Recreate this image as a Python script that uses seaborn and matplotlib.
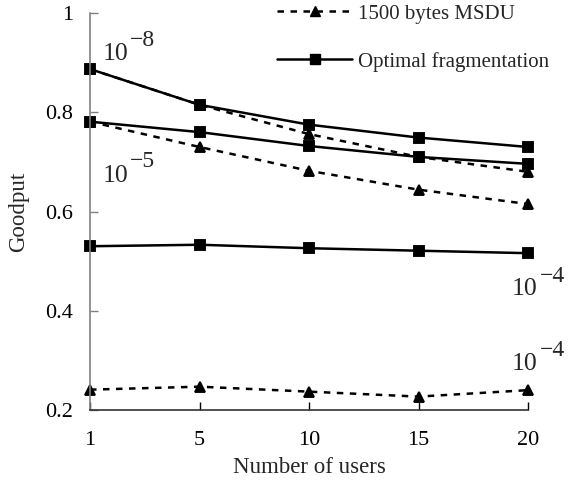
import matplotlib
matplotlib.use("Agg")
import matplotlib.pyplot as plt
import seaborn as sns
import pandas as pd
from matplotlib.lines import Line2D

users = ["1", "5", "10", "15", "20"]
opt_1e8 = [0.887, 0.815, 0.775, 0.749, 0.730]
msdu_1e8 = [0.887, 0.815, 0.756, 0.710, 0.680]
opt_1e5 = [0.781, 0.760, 0.732, 0.710, 0.696]
msdu_1e5 = [0.781, 0.730, 0.682, 0.644, 0.615]
opt_1e4 = [0.530, 0.533, 0.526, 0.521, 0.516]
msdu_1e4 = [0.241, 0.247, 0.237, 0.227, 0.240]

series_labels = ["1500 bytes MSDU", "Optimal fragmentation"]
ber_labels = [("10", "\u22128"), ("10", "\u22125"), ("10", "\u22124"), ("10", "\u22124")]

sns.set_theme(style="ticks")
plt.rcParams["font.family"] = ["Liberation Serif", "DejaVu Serif"]

W, H = 575, 484
fig = plt.figure(figsize=(W / 100, H / 100), dpi=100)
ax = fig.add_axes([90 / W, 74 / H, 438 / W, 397 / H])

dash = (0, (2.6, 2.6))
for vals, kind in [(msdu_1e8, "msdu"), (msdu_1e5, "msdu"), (msdu_1e4, "msdu"),
                   (opt_1e8, "opt"), (opt_1e5, "opt"), (opt_1e4, "opt")]:
    df = pd.DataFrame({"users": users, "goodput": vals})
    if kind == "msdu":
        sns.pointplot(data=df, x="users", y="goodput", order=users, ax=ax,
                      color="black", marker="^", markersize=7,
                      linestyle=dash, linewidth=1.8, errorbar=None)
    else:
        sns.pointplot(data=df, x="users", y="goodput", order=users, ax=ax,
                      color="black", marker="s", markersize=6.8,
                      linestyle="-", linewidth=1.8, errorbar=None)

for ln in ax.lines:
    ln.set_clip_on(False)
for coll in ax.collections:
    coll.set_clip_on(False)

ax.set_xlim(0, len(users) - 1)
ax.set_ylim(0.2, 1.0)
ax.set_yticks([0.2, 0.4, 0.6, 0.8, 1.0])
ax.set_yticklabels(["0.2", "0.4", "0.6", "0.8", "1"])
ax.set_xlabel("Number of users", fontsize=16.5, labelpad=5)
ax.set_ylabel("Goodput", fontsize=16.5, labelpad=12)
ax.tick_params(axis="both", direction="in", length=6, width=1,
               labelsize=16, colors="black")
ax.tick_params(axis="x", pad=15)
ax.tick_params(axis="y", pad=12, color="#808080")
sns.despine(ax=ax)
ax.spines["left"].set_color("#808080")
ax.spines["bottom"].set_color("#333333")
ax.spines["left"].set_linewidth(1.2)
ax.spines["bottom"].set_linewidth(1.2)

# (left of "10", baseline of "10", left of exponent, baseline of exponent) in pixels
label_pos = [(103, 60, 130, 46), (103, 182, 130, 167),
             (512, 295, 540, 282), (512, 370, 540, 356)]
for (base, expo), (bx, by, ex, ey) in zip(ber_labels, label_pos):
    fig.text(bx / W, 1 - by / H, base, fontsize=18.5, ha="left", va="baseline")
    fig.text(ex / W, 1 - ey / H, expo, fontsize=17, ha="left", va="baseline")

handles = [
    Line2D([], [], color="black", linestyle=dash, linewidth=1.8,
           marker="^", markersize=7),
    Line2D([], [], color="black", linestyle="-", linewidth=1.8,
           marker="s", markersize=6.8),
]
leg = fig.legend(handles, series_labels, loc="upper left",
                 bbox_to_anchor=(277 / W, 1 - 4 / H),
                 bbox_transform=fig.transFigure, frameon=False, fontsize=15,
                 handlelength=3.6, handletextpad=0.3, labelspacing=1.35,
                 borderpad=0, borderaxespad=0)

fig.savefig("out.png", dpi=100)
